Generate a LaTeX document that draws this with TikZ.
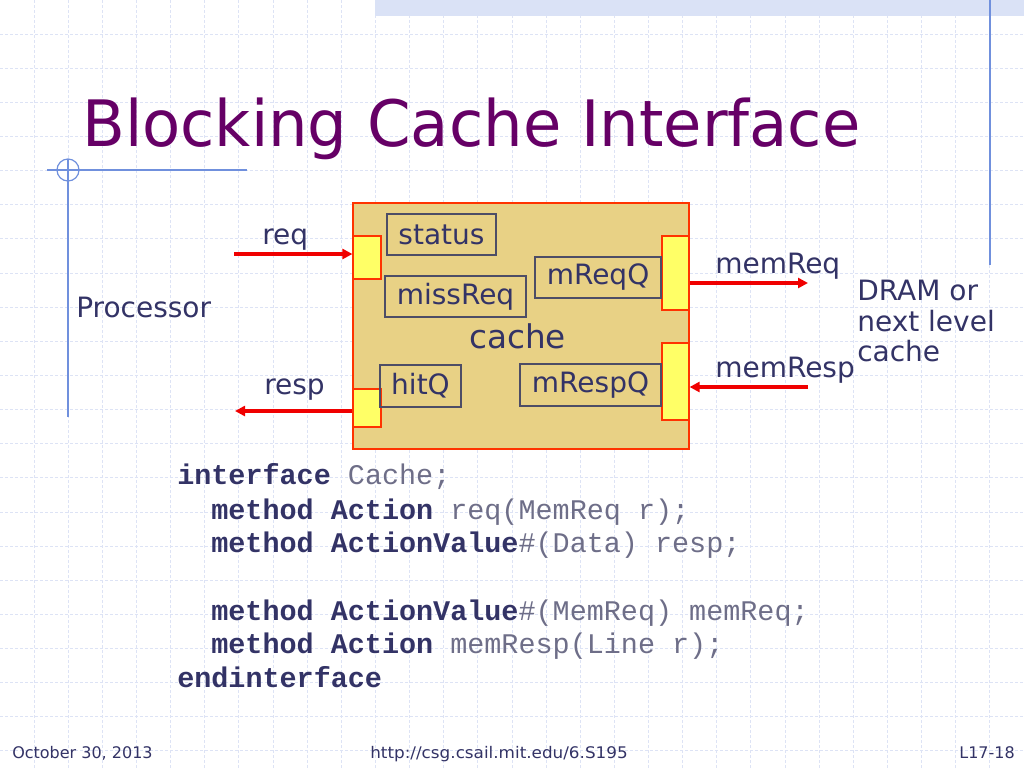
\documentclass[tikz,border=0pt]{standalone}
\usepackage{fontspec}
\setmainfont{DejaVu Sans}
\newfontfamily\codefont{Liberation Mono}
\usetikzlibrary{fit,arrows.meta}
\definecolor{gridc}{HTML}{DDE3F5}
\definecolor{decoc}{HTML}{7090DD}
\definecolor{bandc}{HTML}{DAE2F6}
\definecolor{titlec}{HTML}{660066}
\definecolor{txtc}{HTML}{333366}
\definecolor{codegray}{HTML}{6E6E88}
\definecolor{cachefill}{HTML}{E8D185}
\definecolor{portfill}{HTML}{FFFF66}
\definecolor{redborder}{HTML}{FF3300}
\definecolor{innerc}{HTML}{4D4D66}
\definecolor{arrowc}{HTML}{F00000}
\tikzset{
  gridline/.style={gridc, line width=0.75pt, dash pattern=on 2.25pt off 1.5pt},
  deco/.style={decoc, line width=0.9pt},
  cachebox/.style={draw=redborder, fill=cachefill, line width=0.9pt, inner sep=0pt},
  portbox/.style={draw=redborder, fill=portfill, line width=0.9pt, inner sep=0pt},
  innerbox/.style={draw=innerc, line width=0.9pt, inner sep=0pt},
  boxtext/.style={text=txtc, font=\fontsize{21}{25}\selectfont, inner sep=0pt},
  lbl/.style={text=txtc, font=\fontsize{21}{25}\selectfont, inner sep=0pt, anchor=base west},
  codeline/.style={text=codegray, font=\codefont\fontsize{21.33}{25}\selectfont, inner sep=0pt, anchor=base west},
  foot/.style={text=txtc, font=\fontsize{12}{14}\selectfont, inner sep=0pt},
  arr/.style={arrowc, line width=3pt, -{Triangle[length=7.5pt,width=7.5pt]}}
}
\newcommand{\kw}[1]{\textcolor{txtc}{\bfseries #1}}
\begin{document}
\begin{tikzpicture}[x=0.75pt,y=-0.75pt]
\useasboundingbox (0,0) rectangle (1024,768);
\fill[white] (0,0) rectangle (1024,768);
% grid
\foreach \i in {1,...,29} \draw[gridline] ({\i*34.1333},0) -- ({\i*34.1333},768);
\foreach \j in {1,...,22} \draw[gridline] (0,{\j*34.1333}) -- (1024,{\j*34.1333});
% top band and decorations
\fill[bandc] (375,0) rectangle (1024,16);
\draw[deco] (990,0) -- (990,265);
\draw[deco] (47,170) -- (247,170);
\draw[deco] (68,159) -- (68,417);
\draw[deco] (68,170) circle[radius=11];
% title
\node[text=titlec, font=\fontsize{48}{56}\selectfont, inner sep=0pt, anchor=base west] (title) at (82,146) {\scalebox{0.975}[1]{Blocking Cache Interface}};
% cache block
\node[cachebox, fit={(353,203) (689,449)}] (cache) {};
\node[portbox, fit={(353,236) (381,279)}] (reqPort) {};
\node[portbox, fit={(353,389) (381,427)}] (respPort) {};
\node[portbox, fit={(662,236) (689,310)}] (mReqPort) {};
\node[portbox, fit={(662,343) (689,420)}] (mRespPort) {};
\node[innerbox, fit={(387,214) (496,255)}] (status) {};
\node[innerbox, fit={(385,276) (526,317)}] (missReq) {};
\node[innerbox, fit={(535,257) (661,298)}] (mReqQ) {};
\node[innerbox, fit={(380,365) (461,407)}] (hitQ) {};
\node[innerbox, fit={(520,364) (661,406)}] (mRespQ) {};
\node[boxtext] (statusT) at (status.center) {status};
\node[boxtext] (missReqT) at (missReq.center) {missReq};
\node[boxtext] (mReqQT) at (mReqQ.center) {mReqQ};
\node[boxtext] (hitQT) at (hitQ.center) {hitQ};
\node[boxtext] (mRespQT) at (mRespQ.center) {mRespQ};
\node[lbl, font=\fontsize{24.5}{28}\selectfont] (cachelbl) at (469,348) {cache};
% labels
\node[lbl] (reqlbl) at (262,244) {req};
\node[lbl] (resplbl) at (264,394) {resp};
\node[lbl] (memReqlbl) at (715,273) {memReq};
\node[lbl] (memResplbl) at (715,377) {memResp};
\node[lbl] (proc) at (76,317) {Processor};
\node[lbl] (dram1) at (857,300) {DRAM or};
\node[lbl] (dram2) at (857,331) {next level};
\node[lbl] (dram3) at (857,361) {cache};
% arrows
\coordinate (reqStart) at (234,254);
\coordinate (respEnd) at (235,411);
\coordinate (memReqEnd) at (808,283);
\coordinate (memRespStart) at (808,387);
\draw[arr] (reqStart) -- (reqStart -| reqPort.west);
\draw[arr] (respEnd -| respPort.west) -- (respEnd);
\draw[arr] (memReqEnd -| mReqPort.east) -- (memReqEnd);
\draw[arr] (memRespStart) -- (memRespStart -| mRespPort.east);
% code
\node[codeline] (c1) at (177,484) {\kw{interface} Cache;};
\node[codeline] (c2) at (211.1,519) {\kw{method Action} req(MemReq r);};
\node[codeline] (c3) at (211.1,552) {\kw{method ActionValue}\#(Data) resp;};
\node[codeline] (c5) at (211.1,620) {\kw{method ActionValue}\#(MemReq) memReq;};
\node[codeline] (c6) at (211.1,653) {\kw{method Action} memResp(Line r);};
\node[codeline] (c7) at (177,687) {\kw{endinterface}};
% footer
\node[foot, anchor=base west] (date) at (12,758) {October 30, 2013};
\node[foot, anchor=base west] (url) at (370,758) {\scalebox{1.05}[1]{http://csg.csail.mit.edu/6.S195}};
\node[foot, anchor=base east] (slide) at (1015,758) {L17-18};
\end{tikzpicture}
\end{document}
